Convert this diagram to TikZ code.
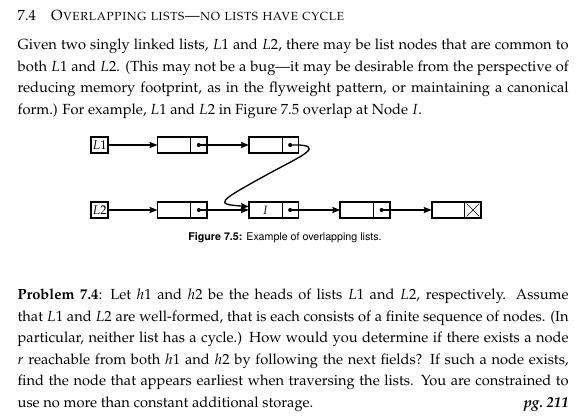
\documentclass[tikz,border=0pt]{standalone}
\usepackage{fontspec}
\newfontfamily\capfont{TeX Gyre Heros}
\usepackage[T1]{fontenc}
\usepackage{mathpazo}
\usetikzlibrary{arrows.meta,positioning}

\begin{document}
\begin{tikzpicture}[x=0.75pt, y=0.75pt, >={Stealth[length=6pt,width=4.6pt,inset=0.8pt]}, line width=1pt,
  field/.style={minimum width=24.75pt, minimum height=12.5pt, inner sep=0pt, outer sep=0pt, font=\fontsize{9}{10}\selectfont},
  next/.style={minimum width=12.4pt, minimum height=12.5pt, inner sep=0pt, outer sep=0pt},
  headbox/.style={draw, line width=1.5pt, minimum width=12.5pt, minimum height=11.5pt, inner sep=0pt, font=\fontsize{9.5}{10}\selectfont},
  para/.style={anchor=base west, inner sep=0pt, text width=413.25pt, align=justify, font=\fontsize{11}{16.1}\selectfont}]
\useasboundingbox (0,0) rectangle (587,418);

% heading and text above the figure
\node[anchor=base west, inner sep=0pt, font=\fontsize{11}{13}\selectfont] (title) at (17,397)
  {7.4\quad\textsc{Overlapping lists---no lists have cycle}};
\node[para] (intro) at (17,368)
  {Given two singly linked lists, $L1$ and $L2$, there may be list nodes that are common to\linebreak
   both $L1$ and $L2$. (This may not be a bug---it may be desirable from the perspective of\linebreak
   reducing memory footprint, as in the flyweight pattern, or maintaining a canonical\linebreak
   form.) For example, $L1$ and $L2$ in Figure 7.5 overlap at Node $I$.};

% list L1
\node[headbox] (head1) at (99.7,273) {$L1$};
\node[field] (a1) at (174,273) {};
\node[next, right=0pt of a1] (pa1) {};
\node[field] (a2) at (265.4,273) {};
\node[next, right=0pt of a2] (pa2) {};

% list L2
\node[headbox] (head2) at (99.7,208) {$L2$};
\node[field] (b1) at (174,208) {};
\node[next, right=0pt of b1] (pb1) {};
\node[field] (b2) at (265.4,208) {$I$};
\node[next, right=0pt of b2] (pb2) {};
\node[field] (b3) at (356.8,208) {};
\node[next, right=0pt of b3] (pb3) {};
\node[field] (b4) at (448.2,208) {};
\node[next, right=0pt of b4] (pb4) {};

% cell outlines
\draw[line width=1.3pt] (a1.north west) rectangle (pa1.south east);
\draw[line width=1.3pt] (a2.north west) rectangle (pa2.south east);
\draw[line width=1.3pt] (b1.north west) rectangle (pb1.south east);
\draw[line width=1.3pt] (b2.north west) rectangle (pb2.south east);
\draw[line width=1.3pt] (b3.north west) rectangle (pb3.south east);
\draw[line width=1.3pt] (b4.north west) rectangle (pb4.south east);
\draw[thin] (pa1.north west) -- (pa1.south west);
\draw[thin] (pa2.north west) -- (pa2.south west);
\draw[thin] (pb1.north west) -- (pb1.south west);
\draw[thin] (pb2.north west) -- (pb2.south west);
\draw[thin] (pb3.north west) -- (pb3.south west);
\draw[thin] (pb4.north west) -- (pb4.south west);

% next pointers
\fill (pa1.center) circle[radius=1.5pt];
\fill (pa2.center) circle[radius=1.5pt];
\fill (pb1.center) circle[radius=1.5pt];
\fill (pb2.center) circle[radius=1.5pt];
\fill (pb3.center) circle[radius=1.5pt];
\draw[->] (head1) -- (a1);
\draw[->] (pa1.center) -- (a2.west);
\draw[->] (head2) -- (b1);
\draw[->] (pb1.center) -- (b2.west);
\draw[->] (pb2.center) -- (b3.west);
\draw[->] (pb3.center) -- (b4.west);
\coordinate (bend) at (270,245);
\draw[->] (pa2.center) .. controls (330,274) and (300,261.3) .. (bend)
  .. controls (215.6,215.2) and (215,214) .. ([yshift=2.5pt]b2.west);

% null pointer
\draw[thin] ([shift={(1.5pt,1.5pt)}]pb4.south west) -- ([shift={(-1.5pt,-1.5pt)}]pb4.north east);
\draw[thin] ([shift={(1.5pt,-1.5pt)}]pb4.north west) -- ([shift={(-1.5pt,1.5pt)}]pb4.south east);

\node[font=\capfont\fontsize{8}{10}\selectfont] (caption) at (285,180)
  {\textbf{Figure 7.5:} Example of overlapping lists.};

% problem statement
\node[para] (problem) at (17,118)
  {\textbf{Problem 7.4}: Let $h1$ and $h2$ be the heads of lists $L1$ and $L2$, respectively. Assume\linebreak
   that $L1$ and $L2$ are well-formed, that is each consists of a finite sequence of nodes. (In\linebreak
   particular, neither list has a cycle.) How would you determine if there exists a node\linebreak
   $r$ reachable from both $h1$ and $h2$ by following the next fields? If such a node exists,\linebreak
   find the node that appears earliest when traversing the lists. You are constrained to\linebreak
   use no more than constant additional storage.\hfill\textbf{\textit{pg.~211}}};
\end{tikzpicture}
\end{document}
